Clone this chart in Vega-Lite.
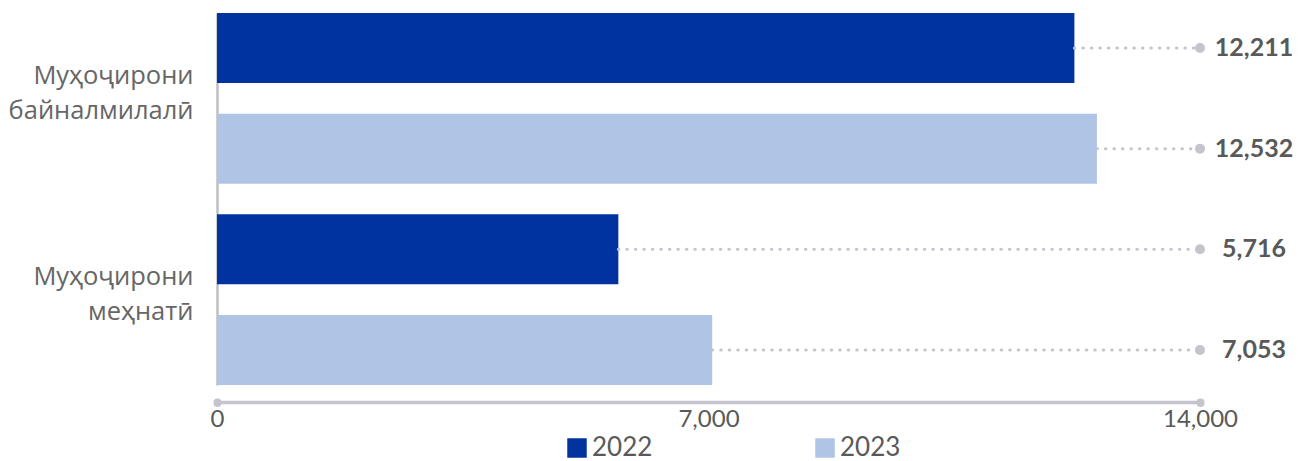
{
  "$schema": "https://vega.github.io/schema/vega-lite/v6.json",
  "width": 983,
  "height": 372,
  "autosize": {"type": "none"},
  "padding": {"left": 217, "top": 13, "right": 98, "bottom": 76},
  "background": "white",
  "config": {"view": {"stroke": null}, "font": "Lato"},
  "data": {
    "values": [
      {"row": "Муҳоҷирони|байналмилалӣ 2022", "category": "Муҳоҷирони байналмилалӣ", "year": "2022", "value": 12211},
      {"row": "Муҳоҷирони|байналмилалӣ 2023", "category": "Муҳоҷирони байналмилалӣ", "year": "2023", "value": 12532},
      {"row": "Муҳоҷирони|меҳнатӣ 2022", "category": "Муҳоҷирони меҳнатӣ", "year": "2022", "value": 5716},
      {"row": "Муҳоҷирони|меҳнатӣ 2023", "category": "Муҳоҷирони меҳнатӣ", "year": "2023", "value": 7053}
    ]
  },
  "encoding": {
    "y": {
      "field": "row",
      "type": "nominal",
      "sort": null,
      "scale": {"paddingInner": 0.305, "paddingOuter": 0},
      "axis": {
        "title": null,
        "ticks": false,
        "domainColor": "#BFBFC4",
        "domainWidth": 2.5,
        "labelExpr": "indexof(datum.value, '2023') >= 0 ? '' : split(replace(datum.value, ' 2022', ''), '|')",
        "labelFont": "Open Sans",
        "labelFontSize": 25.5,
        "labelColor": "#666666",
        "labelPadding": 24,
        "labelOffset": 28,
        "labelLineHeight": 35,
        "labelLimit": 400,
        "labelBaseline": "middle"
      }
    }
  },
  "layer": [
    {
      "mark": {"type": "bar"},
      "encoding": {
        "x": {
          "field": "value",
          "type": "quantitative",
          "scale": {"domain": [0, 14000], "nice": false},
          "axis": {
            "title": null,
            "values": [0, 7000, 14000],
            "format": ",.0f",
            "grid": false,
            "offset": 17,
            "domainColor": "#C4C4CC",
            "domainWidth": 3.5,
            "tickColor": {"condition": {"test": "datum.value === 7000", "value": "transparent"}, "value": "#C4C4CC"},
            "tickWidth": 8,
            "tickCap": "round",
            "tickSize": 0.5,
            "labelFont": "Lato",
            "labelFontSize": 24,
            "labelColor": "#595959",
            "labelPadding": 5,
            "labelFlush": false
          }
        },
        "color": {
          "field": "year",
          "type": "nominal",
          "scale": {"domain": ["2022", "2023"], "range": ["#0033A0", "#B0C4E5"]},
          "legend": {
            "title": null,
            "orient": "none",
            "legendX": 347,
            "legendY": 422,
            "direction": "horizontal",
            "symbolType": "square",
            "symbolSize": 380,
            "symbolStrokeWidth": 0,
            "labelFont": "Lato",
            "labelFontSize": 26,
            "labelColor": "#595959",
            "labelOffset": 2,
            "columnPadding": 159
          }
        }
      }
    },
    {
      "mark": {"type": "rule", "strokeDash": [0.5, 8], "strokeCap": "round", "strokeWidth": 3, "color": "#C4C4CC"},
      "encoding": {
        "x": {"field": "value", "type": "quantitative"},
        "x2": {"datum": 14000}
      }
    },
    {
      "mark": {"type": "point", "filled": true, "size": 100, "color": "#C4C4CC", "opacity": 1},
      "encoding": {
        "x": {"datum": 14000, "type": "quantitative"}
      }
    },
    {
      "mark": {"type": "text", "align": "center", "baseline": "middle", "dx": 54, "fontWeight": "bold", "fontSize": 25, "font": "Lato", "color": "#595959"},
      "encoding": {
        "x": {"datum": 14000, "type": "quantitative"},
        "text": {"field": "value", "type": "quantitative", "format": ","}
      }
    }
  ]
}
